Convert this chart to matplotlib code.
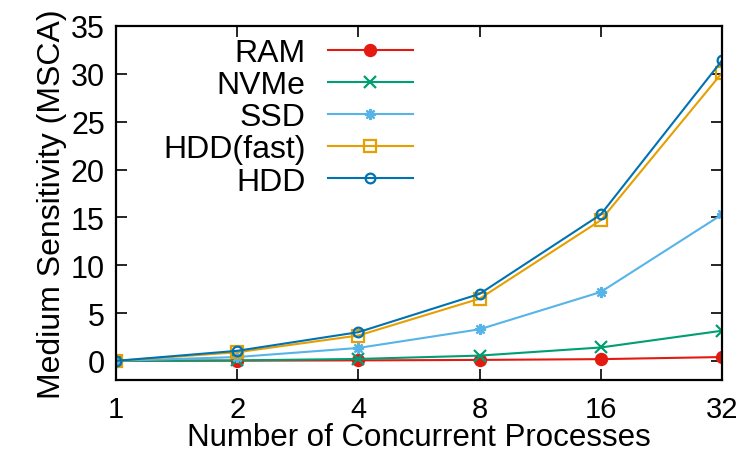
import matplotlib
matplotlib.use('Agg')
import matplotlib.pyplot as plt
import numpy as np

plt.rcParams['font.family'] = ['Liberation Sans', 'DejaVu Sans']

procs = [1, 2, 4, 8, 16, 32]
ram = [0, 0.02, 0.05, 0.1, 0.18, 0.4]
nvme = [0, 0.05, 0.2, 0.55, 1.4, 3.15]
ssd = [0, 0.4, 1.35, 3.3, 7.2, 15.3]
hdd_fast = [0, 0.9, 2.65, 6.5, 14.7, 30.1]
hdd = [0, 1.05, 3.0, 7.0, 15.3, 31.4]

series = [
    ('RAM', ram, '#e41a10', 'o', True),
    ('NVMe', nvme, '#009e73', 'x', True),
    ('SSD', ssd, '#56b4e9', (8, 2, 0), True),
    ('HDD(fast)', hdd_fast, '#e69f00', 's', False),
    ('HDD', hdd, '#0072b2', 'o', False),
]

fig = plt.figure(figsize=(7.43, 4.6), dpi=100)
ax = fig.add_axes([116/743, (460-381)/460, (722-116)/743, (381-27)/460])

for name, vals, c, m, filled in series:
    ax.plot(procs, vals, color=c, lw=1.5, marker=m, markersize=8 if m != 'o' or filled else 7,
            markerfacecolor=c if filled else 'none', markeredgecolor=c, markeredgewidth=1.6,
            label=name)

ax.set_xscale('log', base=2)
ax.set_xlim(1, 32)
ax.set_ylim(-2, 35)
ax.set_xticks(procs)
ax.set_xticklabels([str(p) for p in procs])
ax.minorticks_off()
ax.set_yticks(np.arange(0, 36, 5))
ax.tick_params(direction='in', length=8, width=1.2, top=True, right=True, labelsize=22)
ax.tick_params(axis='x', pad=11, labelsize=21)
ax.tick_params(axis='y', pad=8)
for s in ax.spines.values():
    s.set_linewidth(1.6)

ax.set_xlabel('Number of Concurrent Processes', fontsize=22.5, labelpad=-1)
ax.set_ylabel('Medium Sensitivity (MSCA)', fontsize=23, labelpad=3)

ax.legend(loc='upper right', bbox_to_anchor=(0.49, 0.967), markerfirst=False, frameon=False,
          fontsize=23, handlelength=2.66, handletextpad=0.7, labelspacing=0.07,
          borderpad=0, borderaxespad=0)

fig.savefig('out.png', dpi=100)
